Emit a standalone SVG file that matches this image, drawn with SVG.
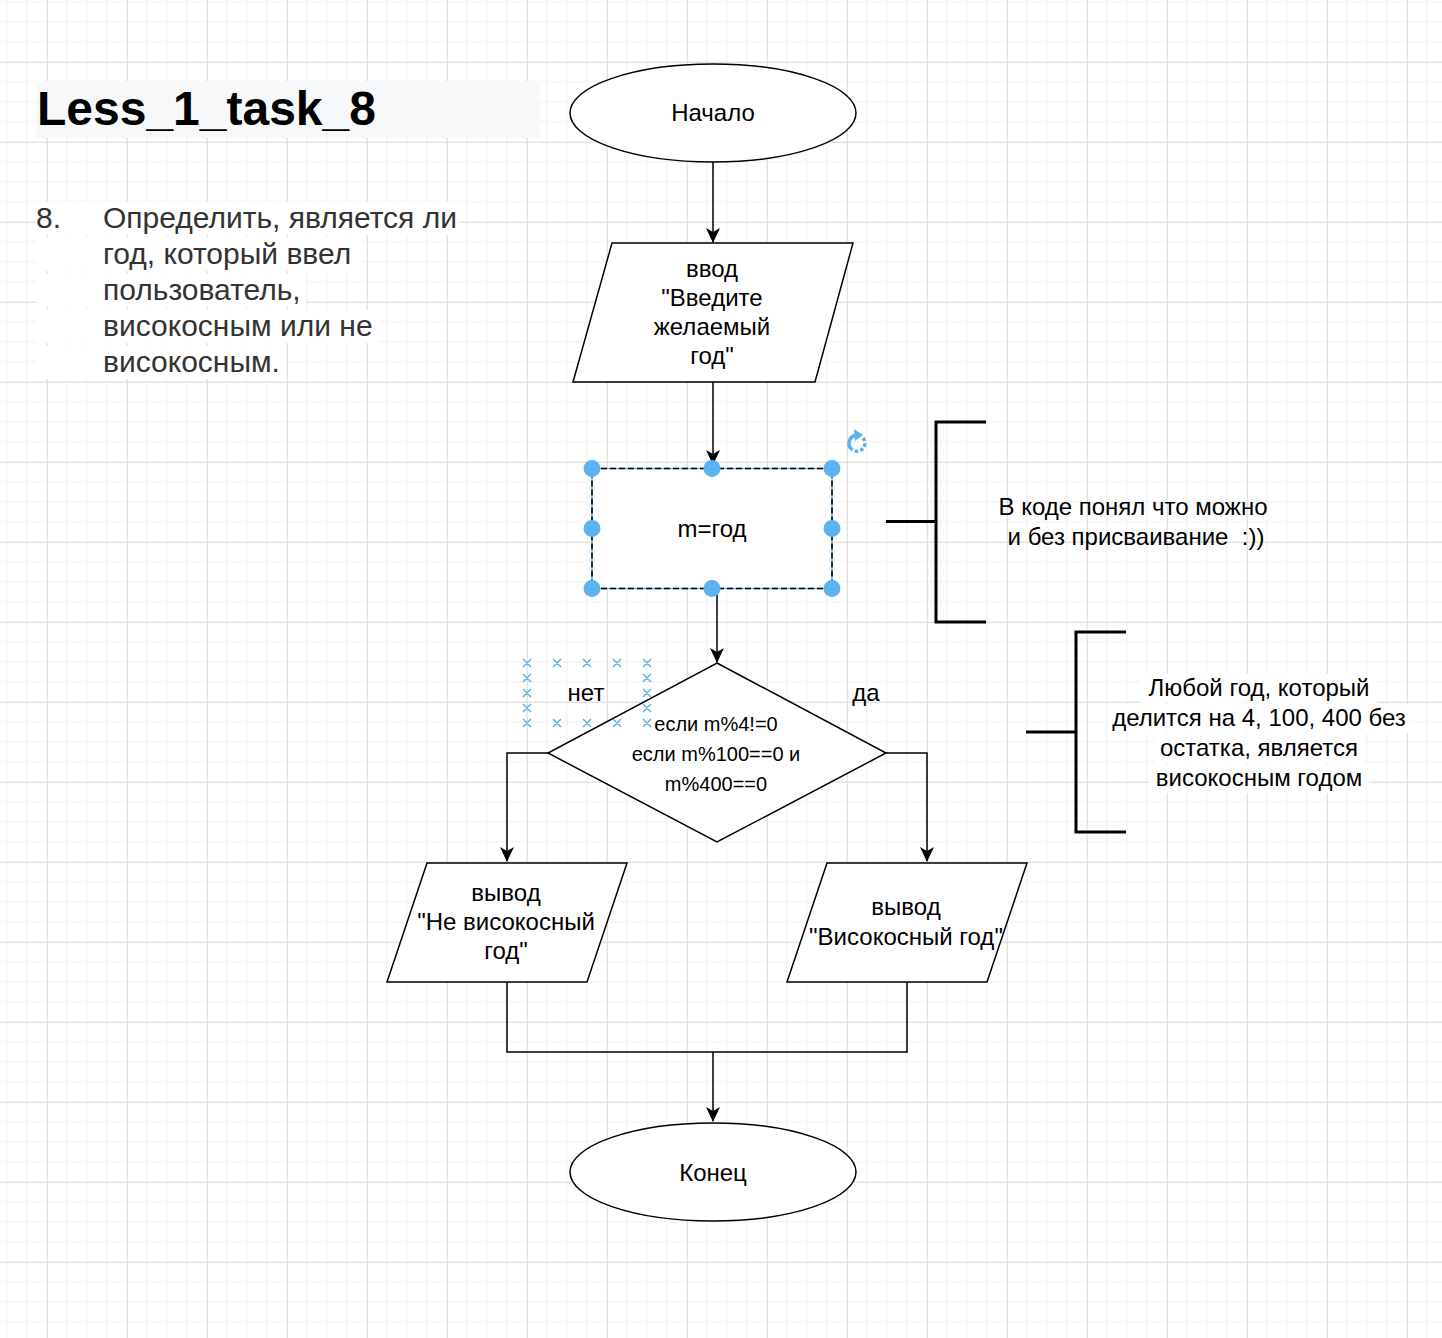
<svg xmlns="http://www.w3.org/2000/svg" width="1442" height="1338" viewBox="0 0 1442 1338">
<defs>
<pattern id="grid" patternUnits="userSpaceOnUse" x="46.7" y="61.7" width="80" height="80">
<path d="M20,0V80M40,0V80M60,0V80M0,20H80M0,40H80M0,60H80" stroke="#efefef" stroke-width="1" fill="none"/>
<path d="M0.5,0V80M0,0.5H80" stroke="#d6d6d6" stroke-width="1" fill="none"/>
</pattern>
<marker id="arr" markerUnits="userSpaceOnUse" markerWidth="15" markerHeight="14" viewBox="0 0 15 14" refX="14" refY="7" orient="auto">
<path d="M0,0 L15,7 L0,14 L4,7 Z" fill="#000"/>
</marker>
</defs>
<style>
text{font-family:"Liberation Sans",Arial,Helvetica,sans-serif;fill:#000}
.t24{font-size:24px;text-anchor:middle}
.t20{font-size:20px;text-anchor:middle}
.shape{fill:#fff;stroke:#000;stroke-width:1.5}
.conn{fill:none;stroke:#000;stroke-width:1.5}
.br{fill:none;stroke:#000;stroke-width:3}
.para{font-size:30px;fill:#333}
.h{fill:#5cb2ee}
.x{stroke:#5cb2ee;stroke-width:1.5;fill:none}
.wbg{fill:#fff}
</style>
<rect width="1442" height="1338" fill="#fff"/>
<rect width="1442" height="1338" fill="url(#grid)"/>

<g id="title">
<rect x="36" y="81" width="504" height="57" fill="#f7f8fa"/>
<text x="37" y="125" style="font-size:48px;font-weight:bold">Less_1_task_8</text>
</g>

<g id="task">
<rect class="wbg" x="36" y="202" width="424" height="33"/>
<rect class="wbg" x="36" y="238" width="326" height="33"/>
<rect class="wbg" x="36" y="274" width="270" height="33"/>
<rect class="wbg" x="36" y="310" width="343" height="33"/>
<rect class="wbg" x="36" y="346" width="250" height="33"/>
<text class="para" x="36" y="228">8.</text>
<text class="para" x="103" y="228">Определить, является ли</text>
<text class="para" x="103" y="264">год, который ввел</text>
<text class="para" x="103" y="300">пользователь,</text>
<text class="para" x="103" y="336">високосным или не</text>
<text class="para" x="103" y="372">високосным.</text>
</g>

<g id="connectors">
<path class="conn" d="M713,162V242" marker-end="url(#arr)"/>
<path class="conn" d="M713,382V464" marker-end="url(#arr)"/>
<path class="conn" d="M717,590V662" marker-end="url(#arr)"/>
<path class="conn" d="M548,753H507V861" marker-end="url(#arr)"/>
<path class="conn" d="M886,753H927V861" marker-end="url(#arr)"/>
<path class="conn" d="M507,982V1052H907V982"/>
<path class="conn" d="M713,1052V1121" marker-end="url(#arr)"/>
</g>

<g id="start">
<ellipse class="shape" cx="713" cy="113" rx="143" ry="49"/>
<text class="t24" x="713" y="121">Начало</text>
</g>

<g id="input">
<polygon class="shape" points="612,243 853,243 815,382 573,382"/>
<text class="t24" x="712" y="277">ввод</text>
<text class="t24" x="712" y="306">"Введите</text>
<text class="t24" x="712" y="335">желаемый</text>
<text class="t24" x="712" y="364">год"</text>
</g>

<g id="assign">
<rect x="592" y="468.5" width="240" height="120" fill="#fff" stroke="#5cb2ee" stroke-width="1.5"/>
<rect x="592" y="468.5" width="240" height="120" fill="none" stroke="#000" stroke-width="1.5" stroke-dasharray="6 3"/>
<text class="t24" x="712" y="537">m=год</text>
<circle class="h" cx="592" cy="468.5" r="8.5"/>
<circle class="h" cx="712" cy="468.5" r="8.5"/>
<circle class="h" cx="832" cy="468.5" r="8.5"/>
<circle class="h" cx="592" cy="528.5" r="8.5"/>
<circle class="h" cx="832" cy="528.5" r="8.5"/>
<circle class="h" cx="592" cy="588.5" r="8.5"/>
<circle class="h" cx="712" cy="588.5" r="8.5"/>
<circle class="h" cx="832" cy="588.5" r="8.5"/>
<path d="M852,449.5 A8,8 0 0 1 855,435.5" fill="none" stroke="#5cb2ee" stroke-width="3.5"/>
<path d="M863,438 A8,8 0 0 1 852,449.5" fill="none" stroke="#5cb2ee" stroke-width="3.5" stroke-dasharray="3.5 2"/>
<path d="M854,429 L863,435 L855,441 Z" fill="#5cb2ee"/>
</g>

<g id="decision">
<polygon class="shape" points="717,663 886,753 717,842 548,753"/>
<text class="t20" x="716" y="731">если m%4!=0</text>
<text class="t20" x="716" y="761">если m%100==0 и</text>
<text class="t20" x="716" y="791">m%400==0</text>
</g>

<g id="markers">
<path class="x" d="M523,659l8,8m0,-8l-8,8M553,659l8,8m0,-8l-8,8M583,659l8,8m0,-8l-8,8M613,659l8,8m0,-8l-8,8M643,659l8,8m0,-8l-8,8
M523,719l8,8m0,-8l-8,8M553,719l8,8m0,-8l-8,8M583,719l8,8m0,-8l-8,8M613,719l8,8m0,-8l-8,8M643,719l8,8m0,-8l-8,8
M523,674l8,8m0,-8l-8,8M523,689l8,8m0,-8l-8,8M523,704l8,8m0,-8l-8,8
M643,674l8,8m0,-8l-8,8M643,689l8,8m0,-8l-8,8M643,704l8,8m0,-8l-8,8"/>
</g>

<g id="label-no"><text class="t24" x="586" y="701">нет</text></g>
<g id="label-yes"><text class="t24" x="866" y="701">да</text></g>

<g id="out-no">
<polygon class="shape" points="427,863 627,863 587,982 387,982"/>
<text class="t24" x="506" y="901">вывод</text>
<text class="t24" x="506" y="930">"Не високосный</text>
<text class="t24" x="506" y="959">год"</text>
</g>

<g id="out-yes">
<polygon class="shape" points="827,863 1027,863 987,982 787,982"/>
<text class="t24" x="906" y="915">вывод</text>
<text class="t24" x="906" y="945">"Високосный год"</text>
</g>

<g id="end">
<ellipse class="shape" cx="713" cy="1172" rx="143" ry="49"/>
<text class="t24" x="713" y="1181">Конец</text>
</g>

<g id="note1">
<path class="br" d="M986,422H936V622H986M886,521.5H936"/>
<text class="t24" x="1133" y="515">В коде понял что можно</text>
<text class="t24" x="1136" y="545">и без присваивание&#160; :))</text>
</g>

<g id="note2">
<path class="br" d="M1126,632H1076V832H1126M1026,732H1076"/>
<rect class="wbg" x="1141" y="674" width="236" height="29"/>
<rect class="wbg" x="1108" y="704" width="302" height="29"/>
<rect class="wbg" x="1155" y="734" width="208" height="29"/>
<rect class="wbg" x="1149" y="764" width="220" height="29"/>
<text class="t24" x="1259" y="696">Любой год, который</text>
<text class="t24" x="1259" y="726">делится на 4, 100, 400 без</text>
<text class="t24" x="1259" y="756">остатка, является</text>
<text class="t24" x="1259" y="786">високосным годом</text>
</g>
</svg>
